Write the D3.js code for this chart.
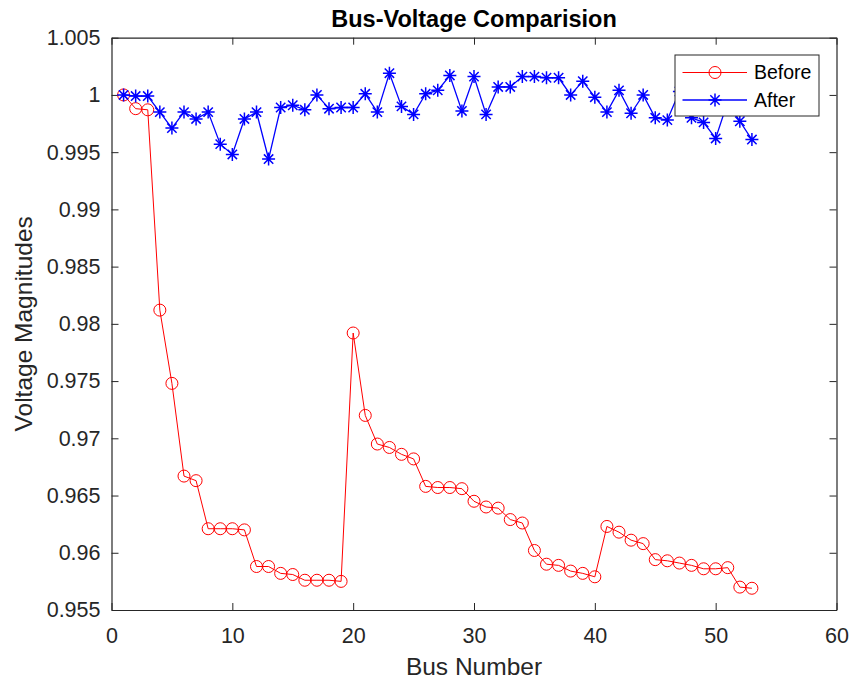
<!DOCTYPE html>
<html>
<head>
<meta charset="utf-8">
<script src="https://cdn.jsdelivr.net/npm/d3@7"></script>
<style>
  html, body { margin: 0; padding: 0; background: #ffffff; }
  svg { display: block; font-family: "Liberation Sans", Arial, Helvetica, sans-serif; }
</style>
</head>
<body>
<svg id="chart" width="855" height="686"></svg>
<script>
// Bus numbers 1..53
const busNumbers = d3.range(1, 54);

// Voltage magnitude at each bus before compensation
const voltageBefore = [
  1.0000, 0.9988, 0.9987, 0.9812, 0.9748, 0.9667, 0.9663, 0.9621, 0.9621, 0.9621,
  0.9620, 0.9588, 0.9588, 0.9582, 0.9581, 0.9576, 0.9576, 0.9576, 0.9575, 0.9792,
  0.9720, 0.9695, 0.9692, 0.9686, 0.9682, 0.9658, 0.9657, 0.9657, 0.9656, 0.9645,
  0.9640, 0.9639, 0.9629, 0.9626, 0.9602, 0.9590, 0.9589, 0.9584, 0.9582, 0.9579,
  0.9623, 0.9618, 0.9611, 0.9608, 0.9594, 0.9593, 0.9591, 0.9589, 0.9586, 0.9586,
  0.9587, 0.9570, 0.9569
];

// Voltage magnitude at each bus after compensation
const voltageAfter = [
  1.0000, 0.9999, 0.9999, 0.9985, 0.9971, 0.9985, 0.9979, 0.9985, 0.9957, 0.9948,
  0.9979, 0.9985, 0.9944, 0.9989, 0.9991, 0.9987, 1.0000, 0.9988, 0.9989, 0.9989,
  1.0001, 0.9985, 1.0019, 0.9990, 0.9983, 1.0001, 1.0004, 1.0017, 0.9986, 1.0016,
  0.9983, 1.0007, 1.0007, 1.0016, 1.0016, 1.0015, 1.0015, 1.0000, 1.0012, 0.9998,
  0.9985, 1.0004, 0.9984, 1.0000, 0.9980, 0.9978, 1.0003, 0.9980, 0.9976, 0.9962,
  0.9994, 0.9977, 0.9961
];

const xTicks = [0, 10, 20, 30, 40, 50, 60];
const yTicks = [0.955, 0.96, 0.965, 0.97, 0.975, 0.98, 0.985, 0.99, 0.995, 1, 1.005];
const yTickLabels = ["0.955", "0.96", "0.965", "0.97", "0.975", "0.98", "0.985", "0.99", "0.995", "1", "1.005"];

const seriesNames = ["Before", "After"];

const plotLeft = 111.5, plotRight = 836.5, plotTop = 37.7, plotBottom = 610;
const axisColor = "#262626";
const tickFont = 21.5;

const svg = d3.select("#chart");

const x = d3.scaleLinear().domain([0, 60]).range([plotLeft, plotRight]);
const y = d3.scaleLinear().domain([0.955, 1.005]).range([plotBottom, plotTop]);

// Plot background
svg.append("rect")
  .attr("x", plotLeft).attr("y", plotTop)
  .attr("width", plotRight - plotLeft).attr("height", plotBottom - plotTop)
  .attr("fill", "#ffffff");

function styleAxis(g, showLabels) {
  g.attr("font-family", null).attr("font-size", null);
  g.select(".domain").attr("stroke", axisColor).attr("stroke-width", 1.2);
  g.selectAll(".tick line").attr("stroke", axisColor).attr("stroke-width", 1);
  g.selectAll(".tick text")
    .attr("fill", axisColor)
    .style("font-size", tickFont + "px")
    .style("display", showLabels ? null : "none");
}

// Bottom axis
svg.append("g")
  .attr("transform", `translate(0,${plotBottom})`)
  .call(d3.axisBottom(x).tickValues(xTicks).tickSize(-7).tickSizeOuter(0).tickPadding(18))
  .call(g => styleAxis(g, true));

// Top axis (box edge, ticks only)
svg.append("g")
  .attr("transform", `translate(0,${plotTop})`)
  .call(d3.axisTop(x).tickValues(xTicks).tickSize(-7).tickSizeOuter(0))
  .call(g => styleAxis(g, false));

// Left axis
svg.append("g")
  .attr("transform", `translate(${plotLeft},0)`)
  .call(d3.axisLeft(y).tickValues(yTicks).tickSize(-7).tickSizeOuter(0).tickPadding(11)
    .tickFormat((d, i) => yTickLabels[i]))
  .call(g => styleAxis(g, true));

// Right axis (box edge, ticks only)
svg.append("g")
  .attr("transform", `translate(${plotRight},0)`)
  .call(d3.axisRight(y).tickValues(yTicks).tickSize(-7).tickSizeOuter(0))
  .call(g => styleAxis(g, false));

const line = d3.line().x(d => x(d[0])).y(d => y(d[1]));

const beforePts = busNumbers.map((b, i) => [b, voltageBefore[i]]);
const afterPts = busNumbers.map((b, i) => [b, voltageAfter[i]]);

const red = "#ff0000";
const blue = "#0000ff";

// Before: red line with circle markers
svg.append("path")
  .datum(beforePts)
  .attr("d", line)
  .attr("fill", "none")
  .attr("stroke", red)
  .attr("stroke-width", 1);

svg.append("g").selectAll("circle")
  .data(beforePts)
  .join("circle")
  .attr("cx", d => x(d[0]))
  .attr("cy", d => y(d[1]))
  .attr("r", 6)
  .attr("fill", "none")
  .attr("stroke", red)
  .attr("stroke-width", 1);

// Asterisk marker path centred on the origin
function starPath(s) {
  const d = s * 0.72;
  return `M${-s},0L${s},0M0,${-s}L0,${s}M${-d},${-d}L${d},${d}M${-d},${d}L${d},${-d}`;
}

// After: blue line with asterisk markers
svg.append("path")
  .datum(afterPts)
  .attr("d", line)
  .attr("fill", "none")
  .attr("stroke", blue)
  .attr("stroke-width", 1.3);

svg.append("g").selectAll("path")
  .data(afterPts)
  .join("path")
  .attr("transform", d => `translate(${x(d[0])},${y(d[1])})`)
  .attr("d", starPath(6.5))
  .attr("fill", "none")
  .attr("stroke", blue)
  .attr("stroke-width", 1.5);

// Title and axis labels
svg.append("text")
  .attr("x", (plotLeft + plotRight) / 2)
  .attr("y", 27)
  .attr("text-anchor", "middle")
  .attr("font-weight", "bold")
  .attr("font-size", 23.5)
  .attr("fill", "#000000")
  .text("Bus-Voltage Comparision");

svg.append("text")
  .attr("x", (plotLeft + plotRight) / 2)
  .attr("y", 675)
  .attr("text-anchor", "middle")
  .attr("font-size", 24.5)
  .attr("fill", axisColor)
  .text("Bus Number");

svg.append("text")
  .attr("transform", `translate(32,${(plotTop + plotBottom) / 2}) rotate(-90)`)
  .attr("text-anchor", "middle")
  .attr("font-size", 24.5)
  .attr("fill", axisColor)
  .text("Voltage Magnitudes");

// Legend
const legend = svg.append("g");
legend.append("rect")
  .attr("x", 675).attr("y", 55)
  .attr("width", 144).attr("height", 61)
  .attr("fill", "#ffffff")
  .attr("stroke", axisColor)
  .attr("stroke-width", 1);

const legendRows = [
  { name: seriesNames[0], color: red, marker: "circle", yy: 72.5 },
  { name: seriesNames[1], color: blue, marker: "star", yy: 100 }
];

legendRows.forEach(r => {
  legend.append("line")
    .attr("x1", 682.5).attr("x2", 747)
    .attr("y1", r.yy).attr("y2", r.yy)
    .attr("stroke", r.color)
    .attr("stroke-width", r.marker === "star" ? 1.3 : 1);
  if (r.marker === "circle") {
    legend.append("circle")
      .attr("cx", 715).attr("cy", r.yy).attr("r", 6)
      .attr("fill", "none").attr("stroke", r.color).attr("stroke-width", 1);
  } else {
    legend.append("path")
      .attr("transform", `translate(715,${r.yy})`)
      .attr("d", starPath(6.5))
      .attr("fill", "none").attr("stroke", r.color).attr("stroke-width", 1.5);
  }
  legend.append("text")
    .attr("x", 754).attr("y", r.yy)
    .attr("dy", "0.35em")
    .attr("font-size", 19.5)
    .attr("fill", "#000000")
    .text(r.name);
});
</script>
</body>
</html>
